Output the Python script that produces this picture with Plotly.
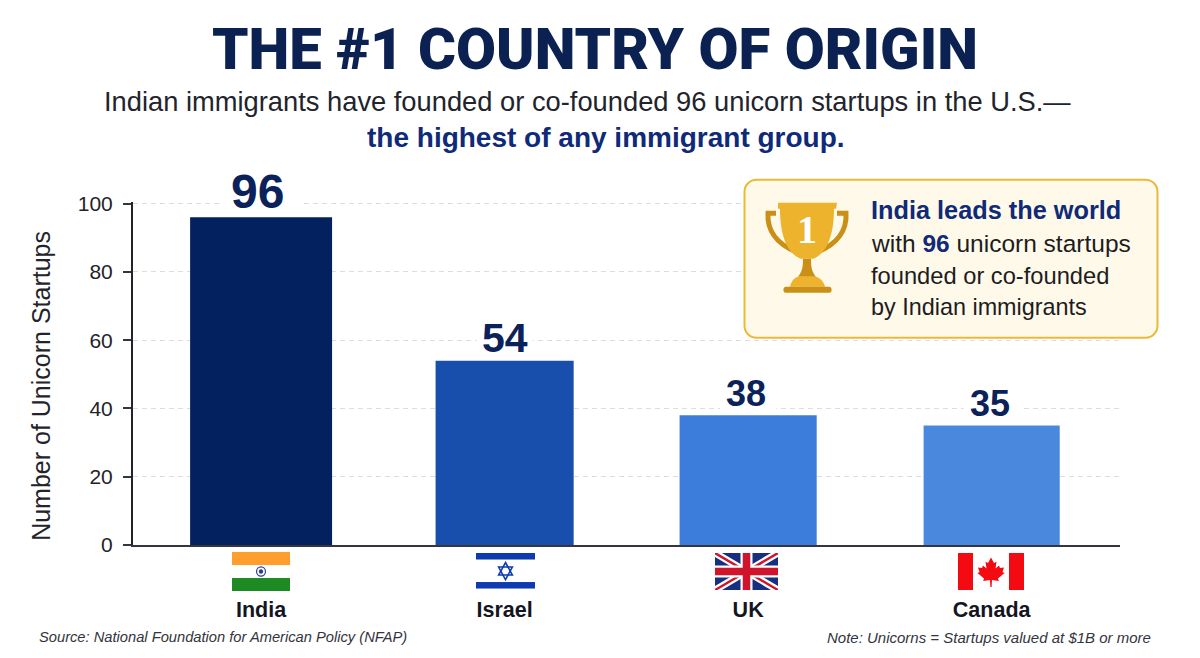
#!/usr/bin/env python3
# -*- coding: utf-8 -*-
#%% imports
import base64
import plotly.graph_objects as go

#%% data
countries = ['India', 'Israel', 'UK', 'Canada']
startups = [96, 54, 38, 35]
bar_colors = ['#03215F', '#184FAC', '#3C7CDB', '#4A88DE']
bar_widths = [0.583, 0.567, 0.563, 0.559]
label_sizes = [48, 41, 36, 36]
label_xshifts = [-4, 0, -2, -2]
label_yshifts = [-3, -2, -1, 0]
gap_halfwidths = [0.16, 0.115, 0.115, 0.115]  # gridlines break around the numbers
y_ticks = [0, 20, 40, 60, 80, 100]

#%% layout constants, all in pixels of the 1200x658 page
WIDTH, HEIGHT = 1200, 658
PAGE_MARGIN = 8  # the browser's default body margin
YMAX = 100.5  # a hair over 100, plotly drops gridlines right on the edge
LEFT, RIGHT, BOTTOM = 133, 1120, 545
TOP = BOTTOM - 3.41 * YMAX
NAVY = '#0A2259'
INK = '#1C1C22'
SANS = 'Liberation Sans'


def paper_x(px):
    return (px - LEFT) / (RIGHT - LEFT)


def paper_y(py):
    return (BOTTOM - py) / (BOTTOM - TOP)


def svg_source(body, w, h):
    svg = (f'<svg xmlns="http://www.w3.org/2000/svg" viewBox="0 0 {w} {h}" '
           f'width="{w}" height="{h}" preserveAspectRatio="none">{body}</svg>')
    return 'data:image/svg+xml;base64,' + base64.b64encode(svg.encode()).decode()


def place_image(source, x0, y0, x1, y1):
    return dict(
        source=source, xref='paper', yref='paper',
        x=paper_x(x0), y=paper_y(y0),
        sizex=(x1 - x0) / (RIGHT - LEFT), sizey=(y1 - y0) / (BOTTOM - TOP),
        xanchor='left', yanchor='top', sizing='stretch', layer='above',
    )


def text(px, py, s, size, color=INK, family=SANS, align='left', angle=0, **kwargs):
    return dict(
        x=paper_x(px), y=paper_y(py), xref='paper', yref='paper', text=s,
        showarrow=False, xanchor=align, yanchor='middle', textangle=angle,
        font=dict(family=family, size=size, color=color, **kwargs),
    )


#%% flags
flag_india = (
    '<rect width="60" height="39" fill="#fff"/>'
    '<rect width="60" height="13" fill="#FF9D2E"/>'
    '<rect y="26" width="60" height="13" fill="#1E8A23"/>'
    '<circle cx="30" cy="19.5" r="4.6" fill="none" stroke="#2A3C8E" stroke-width="1.2"/>'
    '<circle cx="30" cy="19.5" r="2.2" fill="#2A3C8E"/>'
)
flag_israel = (
    '<rect width="60" height="36" fill="#fff"/>'
    '<rect y="0" width="60" height="6.5" fill="#0F3BB0"/>'
    '<rect y="29" width="60" height="6.5" fill="#0F3BB0"/>'
    '<g fill="none" stroke="#0F3BB0" stroke-width="1.6">'
    '<path d="M30 9.5 L37 22 L23 22 Z"/><path d="M30 26.5 L37 14 L23 14 Z"/></g>'
)
flag_uk = (
    '<rect width="63" height="37" fill="#16307F"/>'
    '<path d="M0 0 L63 37 M63 0 L0 37" stroke="#fff" stroke-width="7"/>'
    '<path d="M0 0 L63 37 M63 0 L0 37" stroke="#CF142B" stroke-width="2.4"/>'
    '<path d="M31.5 0 V37 M0 18.5 H63" stroke="#fff" stroke-width="12"/>'
    '<path d="M31.5 0 V37 M0 18.5 H63" stroke="#CF142B" stroke-width="7.5"/>'
)
flag_canada = (
    '<rect width="66" height="37" fill="#fff"/>'
    '<rect width="15" height="37" fill="#F40B12"/>'
    '<rect x="51" width="15" height="37" fill="#F40B12"/>'
    '<path d="M33 4.5 L36 10 L38.5 8.8 L37.5 15.5 L41 12.5 L42 15 L46 14.5 L44.5 19 '
    'L46.5 20 L40 25.5 L40.8 28 L34 27 L33.6 34 L32.4 34 L32 27 L25.2 28 L26 25.5 '
    'L19.5 20 L21.5 19 L20 14.5 L24 15 L25 12.5 L28.5 15.5 L27.5 8.8 L30 10 Z" fill="#F40B12"/>'
)
flags = [
    (flag_india, 60, 39, 232, 552, 290, 591),
    (flag_israel, 60, 36, 476, 553, 535, 589),
    (flag_uk, 63, 37, 715, 553, 778, 590),
    (flag_canada, 66, 37, 958, 553, 1024, 590),
]

#%% callout box with trophy, drawn in the pixels of the region 740,170 430x180
callout = (
    '<rect x="4.5" y="10" width="413" height="158" rx="12" fill="#FFF9E9" '
    'stroke="#E9B938" stroke-width="2"/>'
    '<path d="M36 43.5 H28 C27 60 36 74 56 82" fill="none" stroke="#C98F16" stroke-width="5"/>'
    '<path d="M97 43.5 H106 C107 60 98 74 78 82" fill="none" stroke="#C98F16" stroke-width="5"/>'
    '<path d="M38 33 H97 L96 39 H94 C94 65 87 84 73 89 H61 C47 84 40 65 40 39 H38 Z" fill="#EDB32C"/>'
    '<path d="M63 89 H71 C71 98 72 102 76 107 H58 C62 102 63 98 63 89 Z" fill="#C98F16"/>'
    '<path d="M58 107 H76 C80 108 84 112 85 117 H50 C51 112 54 108 58 107 Z" fill="#EDB32C"/>'
    '<rect x="43.5" y="117" width="48" height="6" rx="2.5" fill="#C98F16"/>'
)

#%% figure
fig = go.Figure(
    go.Bar(
        x=countries,
        y=startups,
        width=bar_widths,
        marker=dict(color=bar_colors, line=dict(width=0)),
        hoverinfo='x+y',
        cliponaxis=False,
    )
)

annotations = [
    dict(
        x=c, y=v, xref='x', yref='y', text=f'<b>{v}</b>', showarrow=False,
        yanchor='bottom', xshift=dx, yshift=dy,
        font=dict(family=SANS, size=s, color=NAVY),
    )
    for c, v, s, dx, dy in zip(countries, startups, label_sizes, label_xshifts, label_yshifts)
]
annotations += [
    text(595, 49, 'THE #1 COUNTRY OF ORIGIN', 58, color='#0B2152',
         family='Roboto', align='center', weight=900),
    text(587, 102, 'Indian immigrants have founded or co-founded 96 unicorn startups in the U.S.—',
         27.3, color='#22242C', align='center'),
    text(606, 138, '<b>the highest of any immigrant group.</b>', 28, color='#0F2A78', align='center'),
    text(807, 230, '<b>1</b>', 40, color='#FFFFFF', family='Liberation Serif', align='center'),
    text(869, 210, '<b>India leads the world</b>', 25.3, color='#0F2A78'),
    text(869, 244, 'with <b><span style="color:#0F2A78">96</span></b> unicorn startups', 24.5),
    text(869, 276, 'founded or co-founded', 23.7),
    text(869, 307, 'by Indian immigrants', 23.4),
    text(36.5, 637, '<i>Source: National Foundation for American Policy (NFAP)</i>', 14.7, color='#33353C'),
    text(1153, 637, '<i>Note: Unicorns = Startups valued at $1B or more</i>', 15, color='#33353C', align='right'),
    text(41, 386, 'Number of Unicorn Startups', 25, color='#22242A', align='center', angle=-90),
]

images = [place_image(svg_source(callout, 430, 180), 740, 170, 1170, 350)]
images += [
    place_image(svg_source(body, w, h), x0, y0, x1, y1)
    for body, w, h, x0, y0, x1, y1 in flags
]

# white patches over the gridlines, under the bars and the numbers
gaps = [
    dict(
        type='rect', xref='x', yref='y', layer='between',
        x0=i - hw, x1=i + hw, y0=v, y1=v + 7,
        fillcolor='#FFFFFF', line=dict(width=0),
    )
    for i, (v, hw) in enumerate(zip(startups, gap_halfwidths))
]

fig.update_layout(
    width=WIDTH - PAGE_MARGIN,
    height=HEIGHT - PAGE_MARGIN,
    margin=dict(
        l=LEFT - PAGE_MARGIN,
        r=WIDTH - RIGHT,
        t=TOP - PAGE_MARGIN,
        b=HEIGHT - BOTTOM,
        pad=0,
    ),
    paper_bgcolor='#FFFFFF',
    plot_bgcolor='#FFFFFF',
    showlegend=False,
    annotations=annotations,
    images=images,
    shapes=gaps,
    xaxis=dict(
        type='category',
        categoryorder='array',
        categoryarray=countries,
        range=[-0.526, 3.527],
        showgrid=False,
        showline=True,
        linecolor='#33363E',
        linewidth=2,
        ticks='',
        ticklabelstandoff=44,
        tickfont=dict(family=SANS, size=21.5, color='#14161F', weight='bold'),
    ),
    yaxis=dict(
        range=[0, YMAX],
        tickvals=y_ticks,
        showgrid=True,
        gridcolor='#DDDDDD',
        griddash='5px,4px',
        gridwidth=1,
        zeroline=False,
        showline=True,
        linecolor='#22242A',
        linewidth=2,
        ticks='outside',
        ticklen=8,
        tickwidth=1.5,
        tickcolor='#33363E',
        ticklabelstandoff=6,
        tickfont=dict(family=SANS, size=21, color='#22242A'),
    ),
)

fig.write_html('out.html')
